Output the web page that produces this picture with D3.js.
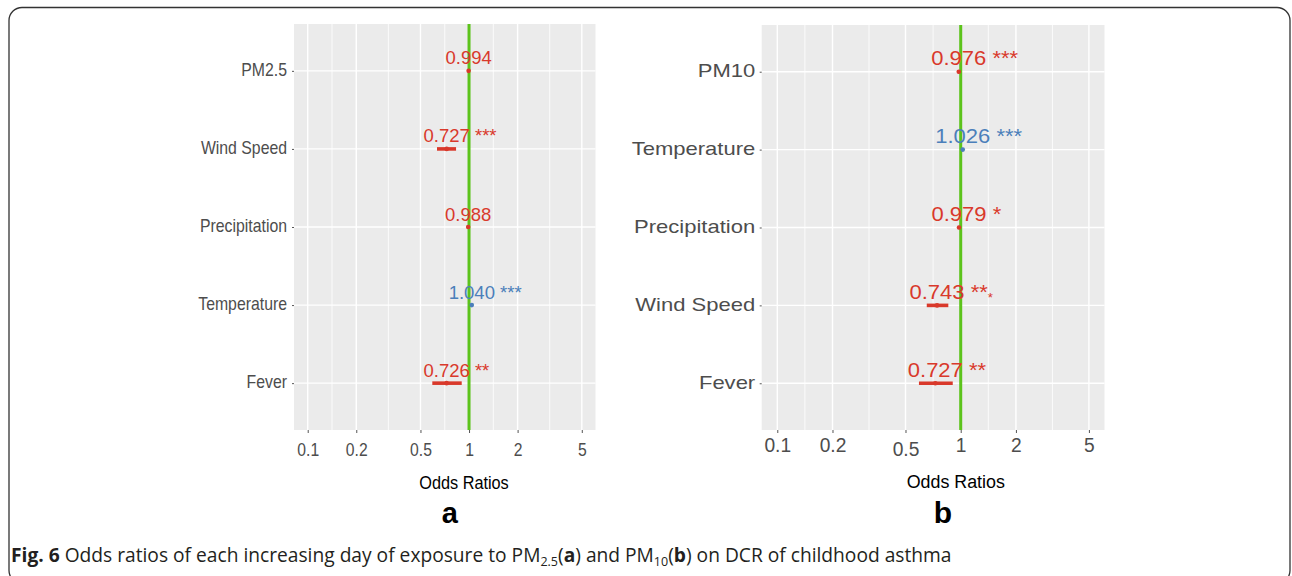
<!DOCTYPE html>
<html>
<head>
<meta charset="utf-8">
<script src="https://cdn.jsdelivr.net/npm/d3@7"></script>
<style>
  body { margin: 0; background: #fff; }
  svg { display: block; font-family: "Liberation Sans", Arial, sans-serif; }
</style>
</head>
<body>
<div id="chart"></div>
<script>
const width = 1292, height = 576;

// Panel a: PM2.5 model
const catsA = ["PM2.5", "Wind Speed", "Precipitation", "Temperature", "Fever"];
const orA = [0.994, 0.727, 0.988, 1.040, 0.726];
const lowA = [0.987, 0.633, 0.981, 1.033, 0.592];
const highA = [1.001, 0.831, 0.995, 1.047, 0.901];
const starsA = ["", "***", "", "***", "**"];

// Panel b: PM10 model ("⁎" = the small low star in the picture)
const catsB = ["PM10", "Temperature", "Precipitation", "Wind Speed", "Fever"];
const orB = [0.976, 1.026, 0.979, 0.743, 0.727];
const lowB = [0.969, 1.019, 0.972, 0.653, 0.592];
const highB = [0.983, 1.033, 0.986, 0.856, 0.905];
const starsB = ["***", "***", "*", "**⁎", "**"];

// x axis
const xTicks = [0.1, 0.2, 0.5, 1, 2, 5];
const xLimits = [0.1, 5];

const red = "#d9392b", blue = "#4b7fba", green = "#5cc31b";

const svg = d3.select("#chart").append("svg")
    .attr("width", width)
    .attr("height", height);

// outer frame
svg.append("rect")
    .attr("x", 9).attr("y", 7.5)
    .attr("width", 1281).attr("height", 576)
    .attr("rx", 13)
    .attr("fill", "none")
    .attr("stroke", "#333")
    .attr("stroke-width", 1.3);

const panels = [
  { cats: catsA, or: orA, low: lowA, high: highA, stars: starsA,
    x0: 294, x1: 595.5, top: 24, bottom: 430,
    yFont: 18.5, ySx: 0.855, yGap: 7, yDy: 4.5,
    xFont: 18.5, xSx: 0.85, xDy: 26, xDrop: {},
    valFont: 18.5, valSx: 1,
    titleX: 464, titleY: 488.5, titleFont: 18.5, titleSx: 0.88,
    letter: "a", letterX: 449.7, letterY: 523, letterFont: 29 },
  { cats: catsB, or: orB, low: lowB, high: highB, stars: starsB,
    x0: 761.7, x1: 1104.5, top: 25, bottom: 430,
    yFont: 18.5, ySx: 1.19, yGap: 6.5, yDy: 5,
    xFont: 20, xSx: 0.96, xDy: 21.7, xDrop: { 0.5: 4 },
    valFont: 20, valSx: 1.1,
    titleX: 955.8, titleY: 488, titleFont: 19, titleSx: 0.94,
    letter: "b", letterX: 943, letterY: 523, letterFont: 30 }
];

// ggplot-style 5% expansion of the log limits
const lo = Math.log10(xLimits[0]), hi = Math.log10(xLimits[1]);
const pad = (hi - lo) * 0.05;
const xDomain = [Math.pow(10, lo - pad), Math.pow(10, hi + pad)];

panels.forEach(p => {
  const x = d3.scaleLog().domain(xDomain).range([p.x0, p.x1]);
  const y = d3.scalePoint().domain(p.cats).range([p.top, p.bottom]).padding(0.6);

  const g = svg.append("g");

  // panel background
  g.append("rect")
      .attr("x", p.x0).attr("y", p.top)
      .attr("width", p.x1 - p.x0).attr("height", p.bottom - p.top)
      .attr("fill", "#ebebeb");

  // minor gridlines at log midpoints between breaks
  const minor = d3.pairs(xTicks).map(([a, b]) => Math.sqrt(a * b));
  g.selectAll(".minor").data(minor).join("line")
      .attr("x1", d => x(d)).attr("x2", d => x(d))
      .attr("y1", p.top).attr("y2", p.bottom)
      .attr("stroke", "#fff").attr("stroke-width", 0.8);

  g.selectAll(".major").data(xTicks).join("line")
      .attr("x1", d => x(d)).attr("x2", d => x(d))
      .attr("y1", p.top).attr("y2", p.bottom)
      .attr("stroke", "#fff").attr("stroke-width", 1.4);

  g.selectAll(".hgrid").data(p.cats).join("line")
      .attr("x1", p.x0).attr("x2", p.x1)
      .attr("y1", d => y(d)).attr("y2", d => y(d))
      .attr("stroke", "#fff").attr("stroke-width", 1.4);

  // reference line at OR = 1
  g.append("line")
      .attr("x1", x(1)).attr("x2", x(1))
      .attr("y1", p.top).attr("y2", p.bottom)
      .attr("stroke", green).attr("stroke-width", 3);

  // x axis
  const xAxis = g.append("g")
      .attr("transform", `translate(0,${p.bottom})`)
      .call(d3.axisBottom(x).tickValues(xTicks).tickFormat(d => String(d)).tickSize(3));
  xAxis.select(".domain").remove();
  xAxis.selectAll("line").attr("stroke", "#555");
  xAxis.selectAll("text")
      .attr("y", d => p.xDy + (p.xDrop[d] || 0))
      .attr("dy", 0)
      .attr("transform", `scale(${p.xSx},1)`)
      .attr("fill", "#4d4d4d")
      .style("font-size", p.xFont + "px")
      .style("font-family", "Liberation Sans, Arial, sans-serif");

  // y axis
  const yAxis = g.append("g")
      .attr("transform", `translate(${p.x0},0)`)
      .call(d3.axisLeft(y).tickSize(2));
  yAxis.select(".domain").remove();
  yAxis.selectAll("line").attr("stroke", "#555");
  yAxis.selectAll("text")
      .attr("x", -p.yGap / p.ySx)
      .attr("dy", p.yDy)
      .attr("transform", `scale(${p.ySx},1)`)
      .attr("fill", "#4d4d4d")
      .style("font-size", p.yFont + "px")
      .style("font-family", "Liberation Sans, Arial, sans-serif");

  const rows = p.cats.map((c, i) => ({ cat: c, or: p.or[i], low: p.low[i], high: p.high[i], stars: p.stars[i] }));
  const col = d => d.or < 1 ? red : blue;

  // confidence intervals
  g.selectAll(".ci").data(rows).join("line")
      .attr("x1", d => x(d.low)).attr("x2", d => x(d.high))
      .attr("y1", d => y(d.cat)).attr("y2", d => y(d.cat))
      .attr("stroke", col).attr("stroke-width", 3.6);

  g.selectAll(".pt").data(rows).join("circle")
      .attr("cx", d => x(d.or)).attr("cy", d => y(d.cat))
      .attr("r", 2.3)
      .attr("fill", col);

  // value labels, number centred on the point, stars after
  rows.forEach(d => {
    const lg = g.append("g")
        .attr("transform", `translate(${x(d.or)},${y(d.cat) - 6.5}) scale(${p.valSx},1)`);
    const t = lg.append("text")
        .attr("fill", col(d))
        .style("font-size", p.valFont + "px");
    const num = t.append("tspan").text(d3.format(".3f")(d.or));
    const w = num.node().getComputedTextLength();
    t.attr("x", -w / 2);
    if (d.stars) {
      const main = d.stars.replace("⁎", "");
      t.append("tspan").text(" " + main);
      if (d.stars.includes("⁎")) {
        t.append("tspan").text("*").attr("dy", 3).style("font-size", (p.valFont * 0.6) + "px");
      }
    }
  });

  // axis title and panel letter
  svg.append("text")
      .attr("transform", `translate(${p.titleX},${p.titleY}) scale(${p.titleSx},1)`)
      .attr("text-anchor", "middle")
      .attr("fill", "#000")
      .style("font-size", p.titleFont + "px")
      .text("Odds Ratios");

  svg.append("text")
      .attr("x", p.letterX).attr("y", p.letterY)
      .attr("text-anchor", "middle")
      .attr("fill", "#000")
      .style("font-size", p.letterFont + "px")
      .style("font-weight", "bold")
      .text(p.letter);
});

// caption
const cap = svg.append("text")
    .attr("x", 11).attr("y", 562)
    .attr("fill", "#231f20")
    .style("font-family", "'Open Sans', sans-serif")
    .style("font-size", "19.2px");
cap.append("tspan").style("font-weight", "bold").text("Fig. 6");
cap.append("tspan").text(" Odds ratios of each increasing day of exposure to PM");
cap.append("tspan").attr("dy", 4).style("font-size", "12.5px").text("2.5");
cap.append("tspan").attr("dy", -4).text("(");
cap.append("tspan").style("font-weight", "bold").text("a");
cap.append("tspan").text(") and PM");
cap.append("tspan").attr("dy", 4).style("font-size", "12.5px").text("10");
cap.append("tspan").attr("dy", -4).text("(");
cap.append("tspan").style("font-weight", "bold").text("b");
cap.append("tspan").text(") on DCR of childhood asthma");
</script>
</body>
</html>
